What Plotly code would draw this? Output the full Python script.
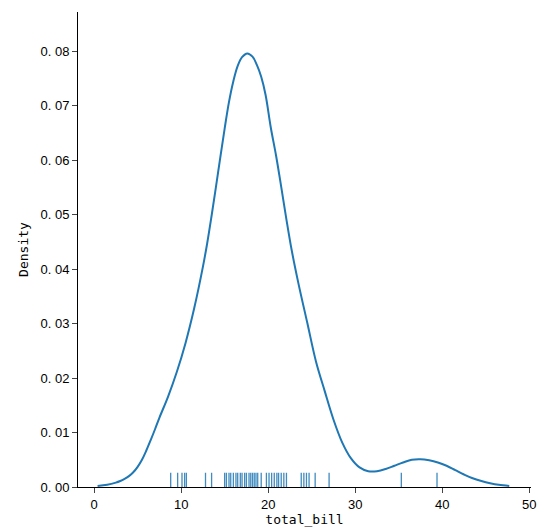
import plotly.graph_objects as go

# KDE curve
kde_x = [0.4, 1.5, 2.5, 3.0, 3.5, 4.0, 4.5, 5.0, 5.5, 6.0, 6.5, 7.0, 7.5, 8.5, 9.5, 10.5,
         11.5, 12.5, 13.0, 13.5, 14.0, 14.5, 15.0, 15.5, 16.0, 16.5, 17.0, 17.6, 18.2,
         18.7, 19.2, 19.7, 20.3, 20.9, 21.5, 22.1, 22.7, 23.5, 24.5, 25.5, 26.5, 27.5,
         28.5, 29.5, 30.5, 31.5, 32.5, 33.5, 34.5, 35.5, 36.5, 37.5, 38.5, 39.5, 40.5,
         41.5, 42.5, 43.5, 44.5, 45.5, 46.5, 47.7]
kde_y = [0.0002, 0.0004, 0.0008, 0.0011, 0.0015, 0.0020, 0.0027, 0.0037, 0.0050, 0.0067,
         0.0086, 0.0106, 0.0127, 0.0166, 0.0211, 0.0264, 0.0328, 0.0404, 0.0448, 0.0498,
         0.0551, 0.0605, 0.0658, 0.0707, 0.0745, 0.0773, 0.0789, 0.0796, 0.0790, 0.0775,
         0.0753, 0.0720, 0.0660, 0.0609, 0.0551, 0.0491, 0.0435, 0.0372, 0.0301, 0.0230,
         0.0176, 0.0124, 0.0082, 0.0053, 0.0036, 0.0029, 0.0029, 0.0033, 0.0039, 0.0045,
         0.0050, 0.0051, 0.0049, 0.0045, 0.0039, 0.0031, 0.0023, 0.0016, 0.0011, 0.0007,
         0.0004, 0.0002]

# rug values
rug_values = [8.8, 9.6, 10.1, 10.4, 10.6, 12.8, 13.5, 15.0, 15.2, 15.5, 15.7, 16.0,
              16.3, 16.5, 16.8, 17.0, 17.3, 17.5, 17.8, 18.0, 18.2, 18.4, 18.6, 18.8,
              19.2, 19.8, 20.1, 20.4, 20.7, 21.0, 21.2, 21.5, 21.8, 22.1, 23.8, 24.1,
              24.4, 24.7, 25.4, 27.0, 35.3, 39.4]

x_ticks = [0, 10, 20, 30, 40, 50]
y_ticks = [0.0, 0.01, 0.02, 0.03, 0.04, 0.05, 0.06, 0.07, 0.08]
y_tick_labels = ["0. 00", "0. 01", "0. 02", "0. 03", "0. 04", "0. 05", "0. 06", "0. 07", "0. 08"]

color = "#1f77b4"

rx, ry = [], []
for v in rug_values:
    rx += [v, v, None]
    ry += [0, 0.03, None]

fig = go.Figure()
fig.add_trace(go.Scatter(x=kde_x, y=kde_y, mode="lines",
                         line=dict(color=color, width=2, shape="spline", smoothing=1.0),
                         showlegend=False))
fig.add_trace(go.Scatter(x=rx, y=ry, mode="lines", line=dict(color=color, width=1.3),
                         yaxis="y2", opacity=0.85, showlegend=False))

font = "DejaVu Sans Mono, Noto Sans CJK SC"
fig.update_layout(
    width=547, height=529,
    margin=dict(l=78, r=16, t=12, b=42),
    plot_bgcolor="white", paper_bgcolor="white",
    font=dict(family=font, size=13, color="black"),
    xaxis=dict(range=[-1.85, 50.2], tickvals=x_ticks, ticks="outside", ticklen=5,
               showline=True, linecolor="black", linewidth=1, showgrid=False, zeroline=False,
               automargin=False,
               title=dict(text="total_bill", standoff=4, font=dict(size=13)),
               tickfont=dict(family="Liberation Sans, Arial", size=13)),
    yaxis=dict(range=[0, 0.0872], tickvals=y_ticks, ticktext=y_tick_labels, ticks="outside",
               ticklen=5, showline=True, linecolor="black", linewidth=1, showgrid=False,
               zeroline=False, automargin=False,
               title=dict(text="Density", standoff=8, font=dict(size=13)),
               tickfont=dict(family="Liberation Sans, Arial", size=13)),
    yaxis2=dict(range=[0, 1], overlaying="y", visible=False),
)

fig.write_html("out.html")
